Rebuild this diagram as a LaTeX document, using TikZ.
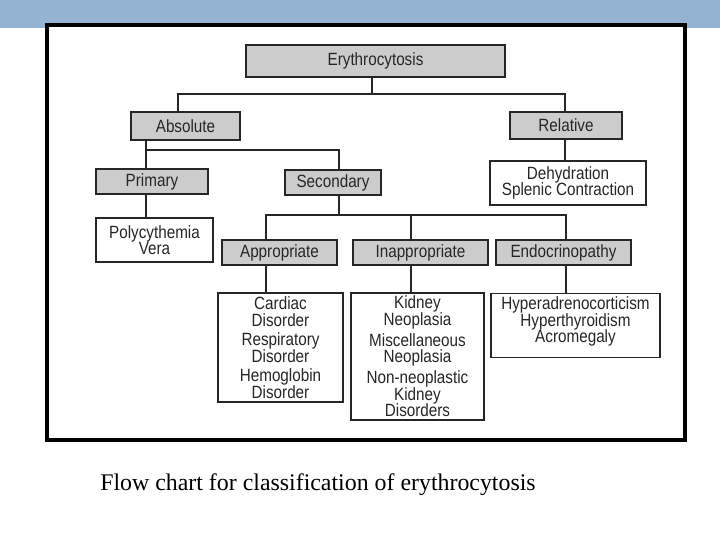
\documentclass[tikz,border=0pt]{standalone}
\usepackage{fontspec}
\setmainfont{Liberation Serif}
\newfontfamily\boxfont[FakeStretch=0.86]{Liberation Sans}
\begin{document}
\begin{tikzpicture}[x=0.75pt,y=-0.75pt,
  box/.style={draw=black!85,line width=1.1pt,inner sep=1pt,align=center,font=\boxfont\fontsize{13.3}{12.5}\selectfont,text=black!85},
  gbox/.style={box,fill=black!20},
  ln/.style={draw=black!85,line width=0.8pt}]
\useasboundingbox (0,0) rectangle (720,540);
\fill[fill={rgb,255:red,148;green,179;blue,210}] (0,0) rectangle (720,28);
\draw[line width=2.5pt,fill=white] (47,25) rectangle (685,440);
\node[gbox,minimum width=259*0.75pt,minimum height=32*0.75pt] (e) at (375.5,61) {Erythrocytosis};
\node[gbox,minimum width=109*0.75pt,minimum height=28*0.75pt] (abs) at (185.5,126) {Absolute};
\node[gbox,minimum width=112*0.75pt,minimum height=27*0.75pt] (rel) at (566,125.5) {Relative};
\node[box,minimum width=156*0.75pt,minimum height=44*0.75pt] (deh) at (568,183) {Dehydration\\Splenic Contraction};
\node[gbox,minimum width=112*0.75pt,minimum height=25*0.75pt] (pri) at (152,181.5) {Primary};
\node[gbox,minimum width=96*0.75pt,minimum height=25*0.75pt] (sec) at (333,182.5) {Secondary};
\node[box,minimum width=117*0.75pt,minimum height=44*0.75pt] (pv) at (154.5,240) {Polycythemia\\Vera};
\node[gbox,minimum width=115*0.75pt,minimum height=25*0.75pt] (app) at (279.5,252.5) {Appropriate};
\node[gbox,minimum width=135*0.75pt,minimum height=25*0.75pt] (inapp) at (420.5,252.5) {Inappropriate};
\node[gbox,minimum width=135*0.75pt,minimum height=25*0.75pt] (endo) at (563.5,252.5) {Endocrinopathy};
\node[box,minimum width=125*0.75pt,minimum height=109*0.75pt] (card) at (280.5,347.5) {Cardiac\\Disorder\\[2pt]Respiratory\\Disorder\\[2pt]Hemoglobin\\Disorder};
\node[box,minimum width=133*0.75pt,minimum height=127*0.75pt] (kid) at (417.5,356.5) {Kidney\\Neoplasia\\[3pt]Miscellaneous\\Neoplasia\\[3pt]Non-neoplastic\\Kidney\\Disorders};
\node[box,minimum width=169*0.75pt,minimum height=64*0.75pt,anchor=north] (hyp) at (575.5,293) {\\[-9pt]Hyperadrenocorticism\\Hyperthyroidism\\Acromegaly};
\coordinate (j1) at (372,94);
\coordinate (j2) at (339,150);
\coordinate (j3) at (339,215);
\draw[ln] (e.south -| j1) -- (j1);
\draw[ln] (abs.north -| 178,0) |- (j1) -| (rel.north -| 565,0);
\draw[ln] (rel.south -| 565,0) -- (deh.north -| 565,0);
\draw[ln] (abs.south -| 146,0) |- (j2) -| (sec.north -| j2);
\draw[ln] (pri.north -| 146,0) -- (146,150);
\draw[ln] (pri.south -| 146,0) -- (pv.north -| 146,0);
\draw[ln] (sec.south -| j3) -- (j3);
\draw[ln] (app.north -| 266,0) |- (j3) -| (endo.north -| 566,0);
\draw[ln] (inapp.north -| 411,0) -- (411,215);
\draw[ln] (app.south -| 266,0) -- (card.north -| 266,0);
\draw[ln] (inapp.south -| 411,0) -- (kid.north -| 411,0);
\draw[ln] (endo.south -| 566,0) -- (hyp.north -| 566,0);
\node[anchor=base west,font=\fontsize{17.9}{20}\selectfont,inner sep=0] (cap) at (100,490) {Flow chart for classification of erythrocytosis};
\end{tikzpicture}
\end{document}
